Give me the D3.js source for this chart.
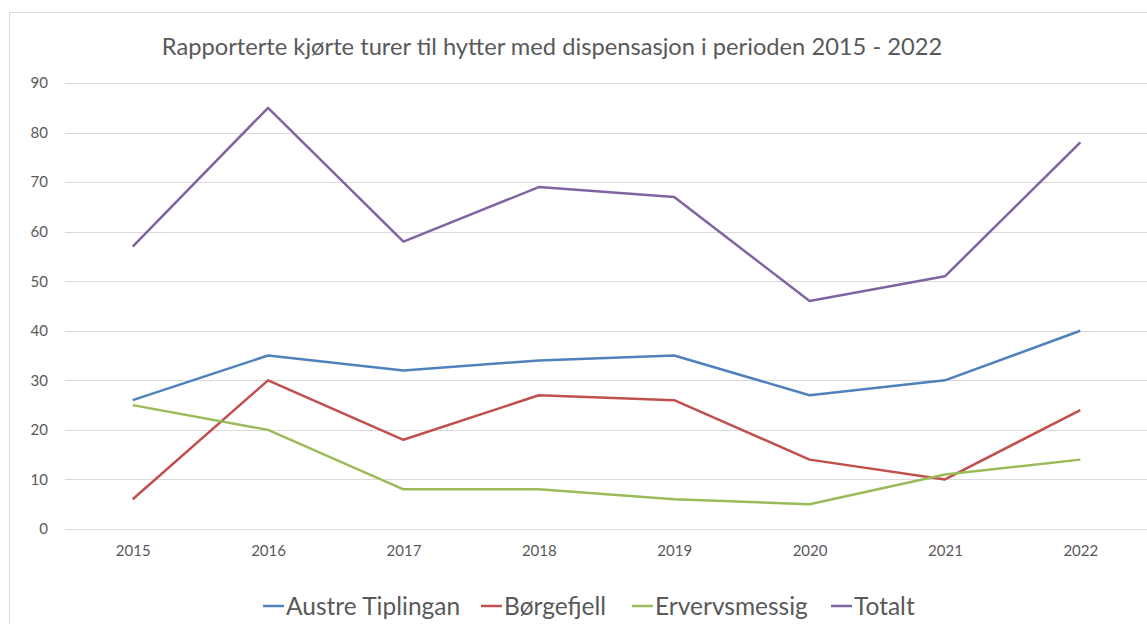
<!DOCTYPE html>
<html>
<head>
<meta charset="utf-8">
<script src="https://cdn.jsdelivr.net/npm/d3@7"></script>
<style>
  body { margin: 0; background: #fff; }
  text { font-family: Lato, "Open Sans", sans-serif; fill: #595959; }
</style>
</head>
<body>
<div id="chart"></div>
<script>
const years = ["2015", "2016", "2017", "2018", "2019", "2020", "2021", "2022"];
const austreTiplingan = [26, 35, 32, 34, 35, 27, 30, 40];
const borgefjell      = [6, 30, 18, 27, 26, 14, 10, 24];
const ervervsmessig   = [25, 20, 8, 8, 6, 5, 11, 14];
const totalt          = [57, 85, 58, 69, 67, 46, 51, 78];
const yTicks = [0, 10, 20, 30, 40, 50, 60, 70, 80, 90];

const series = [
  { name: "Austre Tiplingan", values: austreTiplingan, color: "#4F81BD" },
  { name: "Børgefjell", values: borgefjell, color: "#C0504D" },
  { name: "Ervervsmessig", values: ervervsmessig, color: "#9BBB59" },
  { name: "Totalt", values: totalt, color: "#8064A2" }
];

const W = 1147, H = 624;
const svg = d3.select("#chart")
  .append("svg")
  .attr("width", W)
  .attr("height", H);

// chart area border (runs off the right and bottom edges)
svg.append("rect")
  .attr("x", 9.5)
  .attr("y", 12.5)
  .attr("width", 1200)
  .attr("height", 700)
  .attr("fill", "none")
  .attr("stroke", "#d9d9d9");

const plot = { left: 65, right: 1148, top: 83, bottom: 529 };

const x = d3.scalePoint()
  .domain(years)
  .range([plot.left, plot.right])
  .padding(0.5);

const y = d3.scaleLinear()
  .domain([0, 90])
  .range([plot.bottom, plot.top]);

// gridlines
svg.append("g")
  .selectAll("line")
  .data(yTicks)
  .join("line")
    .attr("x1", plot.left)
    .attr("x2", plot.right)
    .attr("y1", d => Math.round(y(d)) + 0.5)
    .attr("y2", d => Math.round(y(d)) + 0.5)
    .attr("stroke", "#d9d9d9")
    .attr("stroke-width", 1);

// y labels
const yAxis = svg.append("g")
  .attr("transform", `translate(${plot.left - 1},0)`)
  .call(d3.axisLeft(y).tickValues(yTicks).tickSize(0).tickPadding(16));
yAxis.select(".domain").remove();
yAxis.selectAll("text")
  .style("font-size", "15px")
  .attr("fill", "#595959");

// x labels
const xAxis = svg.append("g")
  .attr("transform", `translate(0,${plot.bottom})`)
  .call(d3.axisBottom(x).tickSize(0).tickPadding(16));
xAxis.select(".domain").remove();
xAxis.selectAll("text")
  .style("font-size", "15px")
  .attr("fill", "#595959");

// lines
const line = d3.line()
  .x((d, i) => x(years[i]))
  .y(d => y(d));

svg.append("g")
  .selectAll("path")
  .data(series)
  .join("path")
    .attr("fill", "none")
    .attr("stroke", d => d.color)
    .attr("stroke-width", 2.5)
    .attr("stroke-linejoin", "round")
    .attr("d", d => line(d.values));

// title
svg.append("text")
  .attr("x", 552)
  .attr("y", 55)
  .attr("text-anchor", "middle")
  .style("font-size", "23.7px")
  .text("Rapporterte kjørte turer til hytter med dispensasjon i perioden 2015 - 2022");

// legend
const legendX = [263, 481, 632, 831];
const legend = svg.append("g")
  .selectAll("g")
  .data(series)
  .join("g")
    .attr("transform", (d, i) => `translate(${legendX[i]},606)`);

legend.append("line")
  .attr("x1", 0)
  .attr("x2", 21)
  .attr("y1", 0)
  .attr("y2", 0)
  .attr("stroke", d => d.color)
  .attr("stroke-width", 2.5);

legend.append("text")
  .attr("x", 23)
  .attr("y", 8.5)
  .style("font-size", "24.5px")
  .text(d => d.name);
</script>
</body>
</html>
